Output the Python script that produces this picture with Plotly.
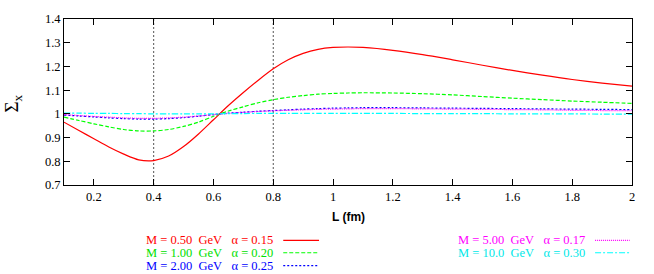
import plotly.graph_objects as go

L = [0.1, 0.15, 0.2, 0.25, 0.3, 0.35, 0.4, 0.45, 0.5, 0.55, 0.6, 0.65, 0.7, 0.75, 0.8,
     0.85, 0.9, 0.95, 1.0, 1.05, 1.1, 1.2, 1.3, 1.4, 1.5, 1.6, 1.7, 1.8, 1.9, 2.0]

sig_m050 = [0.965, 0.93, 0.895, 0.86, 0.83, 0.806, 0.803, 0.822, 0.862, 0.915, 0.975, 1.035,
            1.09, 1.142, 1.19, 1.228, 1.255, 1.272, 1.28, 1.282, 1.28, 1.268, 1.25, 1.228,
            1.205, 1.183, 1.163, 1.145, 1.13, 1.117]
sig_m100 = [0.986, 0.972, 0.958, 0.945, 0.934, 0.928, 0.928, 0.934, 0.947, 0.965, 0.99, 1.012,
            1.03, 1.047, 1.06, 1.07, 1.077, 1.083, 1.086, 1.088, 1.089, 1.088, 1.085, 1.08,
            1.073, 1.066, 1.06, 1.054, 1.049, 1.044]
sig_m200 = [0.995, 0.991, 0.987, 0.983, 0.98, 0.978, 0.978, 0.98, 0.984, 0.99, 0.997, 1.003,
            1.007, 1.011, 1.014, 1.017, 1.02, 1.022, 1.024, 1.025, 1.026, 1.026, 1.025, 1.024,
            1.023, 1.022, 1.021, 1.02, 1.019, 1.018]
sig_m500 = [0.997, 0.993, 0.989, 0.986, 0.983, 0.981, 0.981, 0.983, 0.986, 0.991, 0.997, 1.002,
            1.006, 1.01, 1.013, 1.015, 1.017, 1.019, 1.02, 1.021, 1.022, 1.022, 1.021, 1.02,
            1.019, 1.018, 1.017, 1.015, 1.014, 1.013]
sig_m1000 = [1.003, 1.003, 1.002, 1.002, 1.001, 1.001, 1.0, 1.0, 1.0, 1.0, 1.0, 1.001,
             1.001, 1.002, 1.002, 1.002, 1.002, 1.002, 1.002, 1.002, 1.002, 1.002, 1.001, 1.001,
             1.001, 1.0, 1.0, 1.0, 0.999, 0.999]

labels = ["M = 0.50  GeV   α = 0.15",
          "M = 1.00  GeV   α = 0.20",
          "M = 2.00  GeV   α = 0.25",
          "M = 5.00  GeV   α = 0.17",
          "M = 10.0  GeV   α = 0.30"]
vlines = [0.4, 0.8]
xticks = [0.2, 0.4, 0.6, 0.8, 1.0, 1.2, 1.4, 1.6, 1.8, 2.0]
xticktext = ["0.2", "0.4", "0.6", "0.8", "1", "1.2", "1.4", "1.6", "1.8", "2"]
yticks = [0.7, 0.8, 0.9, 1.0, 1.1, 1.2, 1.3, 1.4]
yticktext = ["0.7", "0.8", "0.9", "1", "1.1", "1.2", "1.3", "1.4"]

series = [sig_m050, sig_m100, sig_m200, sig_m500, sig_m1000]
colors = ["#ff0000", "#00ff00", "#0000ff", "#ff00ff", "#00ffff"]
textcolors = ["#ff0000", "#00e000", "#0000ff", "#ff00ff", "#00e8e8"]
dashes = ["solid", "4px,2px", "2px,2px", "1px,1px", "6px,2px,2px,2px"]

fig = go.Figure()

for xv in vlines:
    fig.add_trace(go.Scatter(x=[xv, xv], y=[yticks[0], yticks[-1]], mode="lines",
                             line=dict(color="#555555", width=1, dash="2px,2px"),
                             showlegend=False, hoverinfo="skip"))

for ys, c, d in zip(series, colors, dashes):
    fig.add_trace(go.Scatter(x=L, y=ys, mode="lines",
                             line=dict(color=c, width=1.2, dash=d, shape="spline", smoothing=0.8),
                             showlegend=False))

serif = "Liberation Serif, Times New Roman, serif"

# legend (text left, sample line right)
pos = [(0.371, -0.334, 0.386, 0.449), (0.371, -0.408, 0.386, 0.449), (0.371, -0.486, 0.386, 0.449),
       (0.921, -0.334, 0.935, 0.996), (0.921, -0.408, 0.935, 0.996)]
for lab, tc, c, d, (tx, ty, lx0, lx1) in zip(labels, textcolors, colors, dashes, pos):
    fig.add_annotation(x=tx, y=ty, xref="paper", yref="paper", text=lab.replace(" ", "\u00a0"),
                       showarrow=False, xanchor="right", yanchor="middle",
                       font=dict(family=serif, size=12.5, color=tc))
    fig.add_shape(type="line", xref="paper", yref="paper", x0=lx0, x1=lx1, y0=ty, y1=ty,
                  line=dict(color=c, width=1.2, dash=d))

fig.add_annotation(x=-0.09, y=0.49, xref="paper", yref="paper", text="Σ<sub>x</sub>",
                   showarrow=False, xanchor="center", yanchor="middle", textangle=-90,
                   font=dict(family=serif, size=19, color="black"))
fig.add_annotation(x=0.5, y=-0.19, xref="paper", yref="paper", text="<b>L (fm)</b>",
                   showarrow=False, yanchor="middle",
                   font=dict(family="Liberation Sans, Arial, sans-serif", size=12, color="black"))

axis_common = dict(showline=True, mirror="allticks", linecolor="black", linewidth=1,
                   ticks="inside", ticklen=6, tickcolor="black", showgrid=False, zeroline=False,
                   tickfont=dict(family=serif, size=12.5, color="black"))
fig.update_xaxes(range=[0.1, 2.0], tickvals=xticks, ticktext=xticktext, **axis_common)
fig.update_yaxes(range=[0.7, 1.4], tickvals=yticks, ticktext=yticktext, **axis_common)

fig.update_layout(width=654, height=274, margin=dict(l=64, r=22, t=15, b=89),
                  plot_bgcolor="white", paper_bgcolor="white", showlegend=False)

fig.write_html("out.html", config={"displayModeBar": False},
               post_script="document.body.style.margin='0px';")
